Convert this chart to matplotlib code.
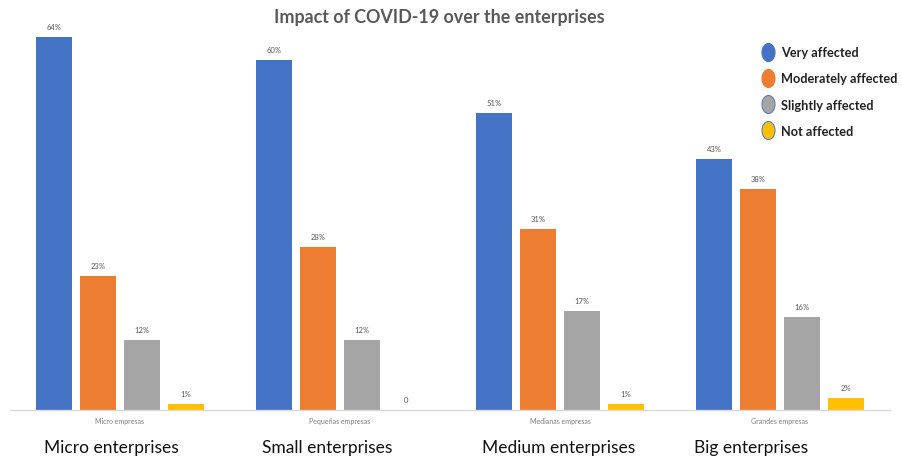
import matplotlib
matplotlib.use("Agg")
import matplotlib.pyplot as plt
from matplotlib.lines import Line2D
from matplotlib.path import Path
from matplotlib.transforms import Affine2D, blended_transform_factory
import numpy as np

plt.rcParams['font.family'] = ['Lato', 'DejaVu Sans']

categories_es = ["Micro empresas", "Pequeñas empresas", "Medianas empresas", "Grandes empresas"]
categories_en = ["Micro enterprises", "Small enterprises", "Medium enterprises", "Big enterprises"]
series_names = ["Very affected", "Moderately affected", "Slightly affected", "Not affected"]
very_affected = [64, 60, 51, 43]
moderately_affected = [23, 28, 31, 38]
slightly_affected = [12, 12, 17, 16]
not_affected = [1, 0, 1, 2]
colors = ["#4472C4", "#ED7D31", "#A5A5A5", "#FFC000"]

series = [very_affected, moderately_affected, slightly_affected, not_affected]

fig = plt.figure(figsize=(9.03, 4.60), dpi=100)
ax = fig.add_axes([10/903, 49/460, 880/903, (460-49-3)/460])
ax.set_xlim(-0.5, 3.5)
ax.set_ylim(0, 70)
for s in ax.spines.values():
    s.set_visible(False)
ax.spines['bottom'].set_visible(True)
ax.spines['bottom'].set_color('#D9D9D9')
ax.spines['bottom'].set_linewidth(1.0)
ax.set_yticks([])
ax.set_xticks([])

x = np.arange(len(categories_es))
offsets = [-0.3, -0.1, 0.1, 0.3]
width = 0.16
for i, (vals, col) in enumerate(zip(series, colors)):
    bars = ax.bar(x + offsets[i], vals, width=width, color=col, zorder=2)
    for b, v in zip(bars, vals):
        lab = f"{v}%" if v > 0 else "0"
        ax.annotate(lab, (b.get_x() + b.get_width()/2, b.get_height()),
                    xytext=(0, 5), textcoords='offset points', ha='center', va='bottom',
                    fontsize=5.5, color='#595959')

trans = blended_transform_factory(ax.transData, fig.transFigure)
for i, lab in enumerate(categories_es):
    ax.text(x[i], 1 - 422/460, lab, transform=trans, ha='center', va='center',
            fontsize=5, color='#7F7F7F')

en_shift = [-0.345, -0.353, -0.355, -0.39]
for i, lab in enumerate(categories_en):
    ax.text(x[i] + en_shift[i], 1 - 448/460, lab, transform=trans, ha='left', va='center',
            fontsize=12.5, color='#111111')

fig.text(0.487, 1 - 18/460, "Impact of COVID-19 over the enterprises", ha='center', va='center',
         fontsize=12.9, fontweight='bold', color='#595959')

ellipse = Path.unit_circle().transformed(Affine2D().scale(0.72, 1.0))
edge_cols = ["#4472C4", "#ED7D31", "#5B7FB8", "#5B7FB8"]
handles = [Line2D([], [], linestyle='none', marker=ellipse, markersize=13,
                  markerfacecolor=c, markeredgecolor=e, markeredgewidth=0.8)
           for c, e in zip(colors, edge_cols)]
leg = fig.legend(handles, series_names, loc='upper left', bbox_to_anchor=(754/903, 1 - 41/460),
                 frameon=False, prop={'size': 9.2, 'weight': 'bold'}, labelspacing=1.1,
                 handletextpad=0.45, handlelength=1.2, borderpad=0)
for t in leg.get_texts():
    t.set_color('#222222')

fig.savefig("out.png", dpi=100)
